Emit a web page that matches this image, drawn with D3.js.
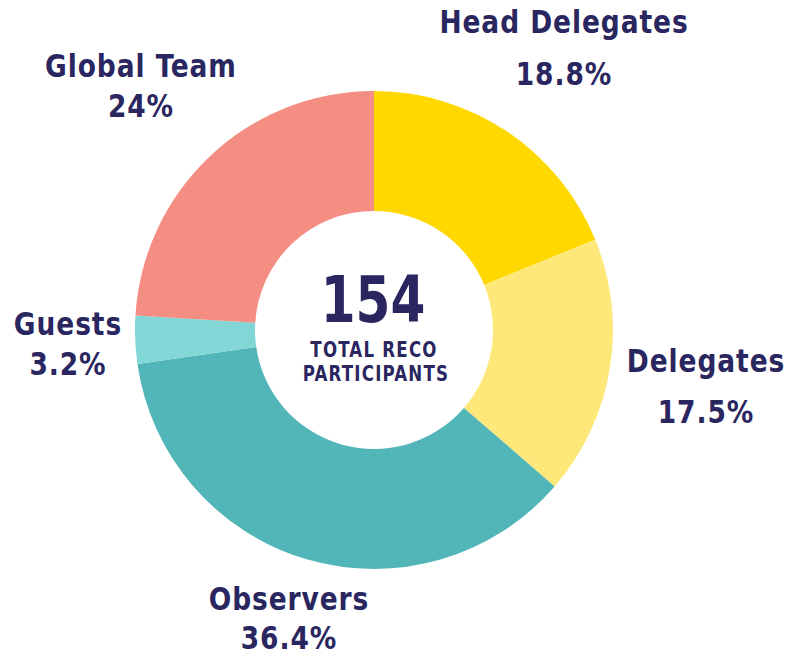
<!DOCTYPE html>
<html lang="en">
<head>
<meta charset="utf-8">
<title>RECO participants</title>
<script src="https://d3js.org/d3.v7.min.js"></script>
<style>
  body { margin: 0; background: #fff; }
  text { font-family: "DejaVu Sans Condensed", "DejaVu Sans", sans-serif; font-stretch: condensed; font-weight: bold; fill: #2a265f; }
</style>
</head>
<body>
<svg id="chart" width="806" height="659"></svg>
<script>
// participant groups, clockwise from 12 o'clock
var categories = ["Head Delegates", "Delegates", "Observers", "Guests", "Global Team"];
var counts = [29, 27, 56, 5, 37];
var pctLabels = ["18.8%", "17.5%", "36.4%", "3.2%", "24%"];
var total = 154;
var colors = ["#ffd800", "#ffe87a", "#52b6b8", "#82d6d6", "#f48d82"];

// where each label sits (centre x, first baseline, second baseline)
var labelPos = [
  [564, 33, 85],
  [706, 372, 423],
  [289, 610, 649],
  [68, 335, 375],
  [141, 77, 117]
];

var svg = d3.select("#chart");
var cx = 374, cy = 330;
var g = svg.append("g").attr("transform", "translate(" + cx + "," + cy + ")");

var pie = d3.pie().sort(null).value(function(d) { return d; });
var arc = d3.arc().innerRadius(119).outerRadius(239);

g.selectAll("path")
  .data(pie(counts))
  .enter().append("path")
  .attr("d", arc)
  .attr("fill", function(d, i) { return colors[i]; });

// squeezed text, the original face is narrower than DejaVu
function label(parent, x, y, size, ls, sx, str) {
  parent.append("text")
    .attr("text-anchor", "middle")
    .attr("transform", "translate(" + x + "," + y + ") scale(" + sx + ",1)")
    .style("font-size", size + "px").style("letter-spacing", ls + "px")
    .text(str);
}

// centre text
label(g, -1, -8, 64, 0, 0.87, total);
label(g, 0, 27, 21, 1.4, 0.88, "TOTAL RECO");
label(g, 2, 51, 21, 1.4, 0.88, "PARTICIPANTS");

// outside labels
categories.forEach(function(c, i) {
  var p = labelPos[i];
  label(svg, p[0], p[1], 32, 1, 0.92, c);
  label(svg, p[0], p[2], 32, 1, 0.92, pctLabels[i]);
});
</script>
</body>
</html>
